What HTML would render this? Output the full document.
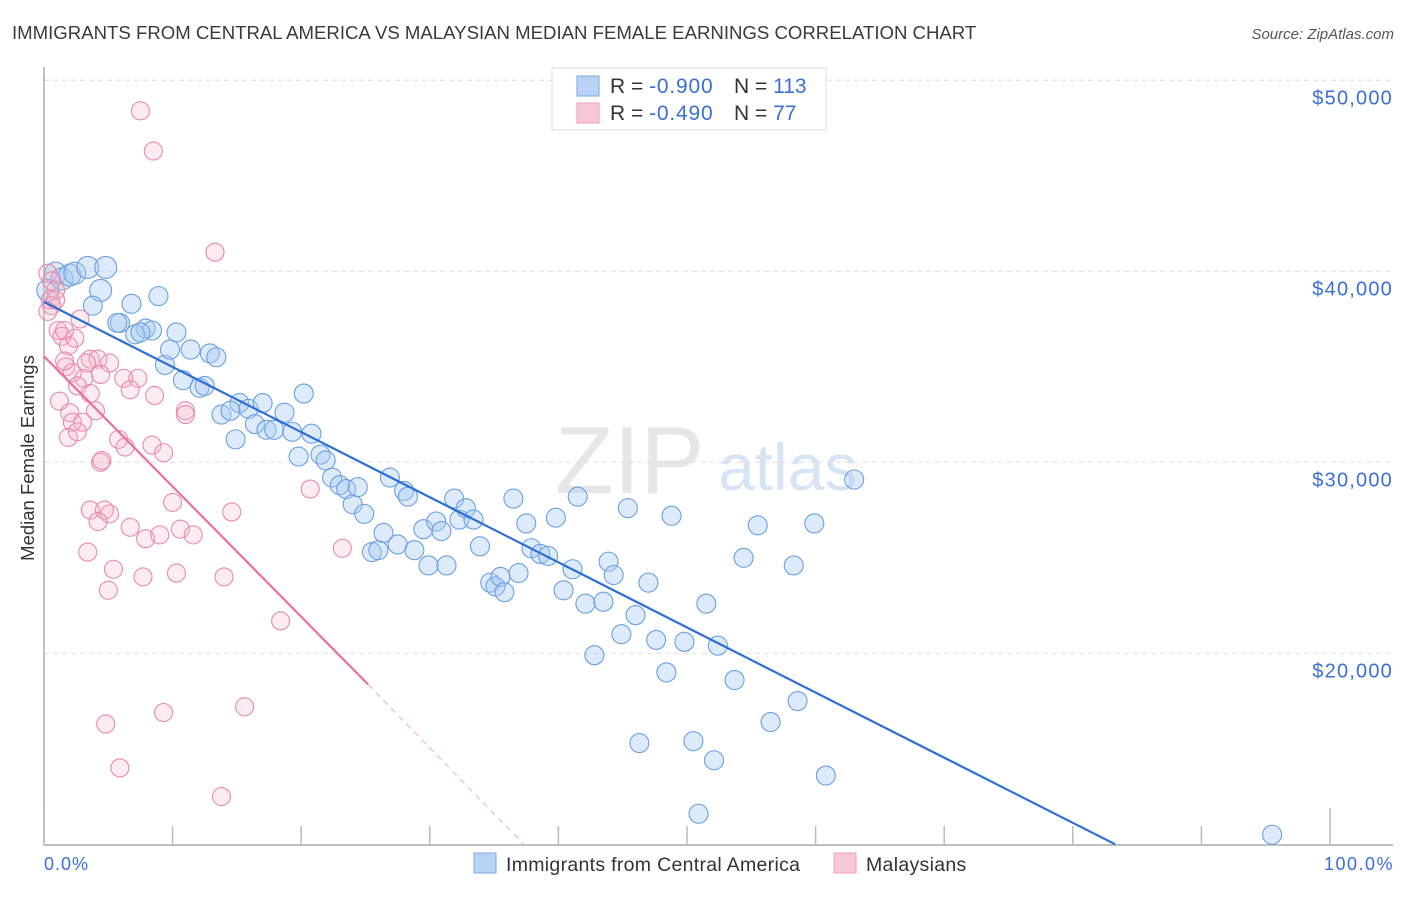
<!DOCTYPE html>
<html><head><meta charset="utf-8"><style>
body{margin:0;background:#fff;font-family:"Liberation Sans",sans-serif;}
svg text{font-family:"Liberation Sans",sans-serif;}
</style></head><body>
<svg id="chart" width="1406" height="892">
<text x="12" y="39" font-size="18.6" fill="#3a3a3a">IMMIGRANTS FROM CENTRAL AMERICA VS MALAYSIAN MEDIAN FEMALE EARNINGS CORRELATION CHART</text>
<text x="1394" y="39" font-size="15" font-style="italic" fill="#555" text-anchor="end">Source: ZipAtlas.com</text>
<text x="555" y="493" font-size="96" fill="#e6e6e6" font-family="Liberation Serif">ZIP</text>
<text x="718" y="490" font-size="66" fill="#d6e4f6">atlas</text>
<g id="grid"></g>
<g id="axes"></g>
<g id="pts"></g>
<g id="trend"></g>
<text transform="translate(34,458) rotate(-90)" font-size="18.5" fill="#333" text-anchor="middle">Median Female Earnings</text>
<text x="44" y="870" font-size="18" letter-spacing="1" fill="#3a6fd8">0.0%</text>
<text x="1394" y="870" font-size="18" letter-spacing="1.5" fill="#3a6fd8" text-anchor="end">100.0%</text>
<g>
<rect x="552" y="68" width="274" height="62" fill="#fff" stroke="#ddd"/>
<rect x="577" y="76" width="22" height="20" fill="#b8d3f5" stroke="#7aa8e6"/>
<rect x="577" y="103" width="22" height="20" fill="#f9c6d6" stroke="#eea0b8"/>
<text x="610" y="93" font-size="21" fill="#333">R = <tspan fill="#3a6fd8" letter-spacing="0.8">-0.900</tspan></text>
<text x="734" y="93" font-size="21" fill="#333">N = <tspan fill="#3a6fd8">113</tspan></text>
<text x="610" y="120" font-size="21" fill="#333">R = <tspan fill="#3a6fd8" letter-spacing="0.8">-0.490</tspan></text>
<text x="734" y="120" font-size="21" fill="#333">N = <tspan fill="#3a6fd8"> 77</tspan></text>
</g>
<g>
<rect x="474" y="853" width="22" height="20" fill="#b8d3f5" stroke="#7aa8e6"/>
<text x="506" y="871" font-size="19.5" letter-spacing="0.3" fill="#333">Immigrants from Central America</text>
<rect x="834" y="853" width="22" height="20" fill="#f9c6d6" stroke="#eea0b8"/>
<text x="866" y="871" font-size="19.5" letter-spacing="0.3" fill="#333">Malaysians</text>
</g>
</svg>
<script>
const yTicks=[20000,30000,40000,50000];
const yTickLabels=["$20,000","$30,000","$40,000","$50,000"];
const xTicks=[0,10,20,30,40,50,60,70,80,90,100];
const blueX=[0.9,0.3,1.4,2.0,2.4,3.4,4.8,4.4,3.8,5.9,6.8,5.7,7.9,8.4,8.9,7.1,7.5,10.3,9.4,9.8,10.8,11.4,12.1,12.9,13.4,12.5,14.9,15.2,13.8,14.5,15.9,16.4,17.0,17.3,17.9,18.7,19.3,20.2,19.8,20.8,21.5,21.9,22.4,23.0,23.5,24.0,24.4,24.9,25.5,26.0,26.4,26.9,27.5,28.0,28.3,28.8,29.5,29.9,30.5,31.3,30.9,31.9,32.3,32.8,33.4,33.9,34.7,35.1,35.5,35.8,36.5,36.9,37.5,37.9,38.6,39.2,39.8,40.4,41.1,41.5,42.1,43.5,43.9,44.3,44.9,45.4,46.0,47.0,47.6,48.4,48.8,49.8,50.5,50.9,51.5,52.1,52.4,53.7,54.4,55.5,56.5,58.3,58.6,59.9,60.8,63.0,95.5,42.8,46.3];
const blueY=[39900,39000,39600,39800,39900,40200,40200,39000,38200,37300,38300,37300,37000,36900,38700,36700,36800,36800,35100,35900,34300,35900,33900,35700,35500,34000,31200,33100,32500,32700,32800,32000,33100,31700,31700,32600,31600,33600,30300,31500,30400,30100,29200,28800,28600,27800,28700,27300,25300,25400,26300,29200,25700,28500,28200,25400,26500,24600,26900,24600,26400,28100,27000,27600,27000,25600,23700,23500,24000,23200,28100,24200,26800,25500,25200,25100,27100,23300,24400,28200,22600,22700,24800,24100,21000,27600,22000,23700,20700,19000,27200,20600,15400,11600,22600,14400,20400,18600,25000,26700,16400,24600,17500,26800,13600,29100,10500,19900,15300];
const pinkX=[7.5,8.5,13.3,0.3,0.6,0.9,0.5,0.6,1.1,1.4,1.9,2.4,2.8,3.6,4.2,5.1,1.7,2.2,3.1,4.4,6.2,7.3,2.6,3.6,6.7,8.6,1.2,2.0,4.0,11.0,11.0,2.2,3.0,1.9,2.6,5.8,6.3,8.4,9.3,4.4,4.5,20.7,10.0,3.6,4.7,5.1,14.6,4.2,6.7,10.6,11.6,7.9,9.0,23.2,3.4,5.4,7.7,10.3,14.0,5.0,18.4,4.8,9.3,15.6,5.9,13.8,1.6,0.9,0.3,1.6,3.3];
const pinkY=[48400,46300,41000,39900,39500,39000,38500,38200,36900,36600,36100,36500,37500,35400,35400,35200,35000,34700,34400,34600,34400,34400,34000,33600,33800,33500,33200,32600,32700,32700,32500,32100,32100,31300,31600,31200,30800,30900,30500,30000,30100,28600,27900,27500,27500,27300,27400,26900,26600,26500,26200,26000,26200,25500,25300,24400,24000,24200,24000,23300,21700,16300,16900,17200,14000,12500,36900,38500,37900,35300,35200];
const blueTrendX=[0,83.3];
const blueTrendY=[38400,10000];
const pinkTrendX=[0,25.2];
const pinkTrendY=[35550,18370];
const pinkDashX=[25.2,37.3];
const pinkDashY=[18370,10000];

const NS="http://www.w3.org/2000/svg";
function xs(v){return 44+v*12.86;}
function ys(v){return 80.3+(50000-v)/10000*191;}
function mk(tag,attrs,parent){const e=document.createElementNS(NS,tag);for(const k in attrs)e.setAttribute(k,attrs[k]);document.getElementById(parent).appendChild(e);return e;}

yTicks.forEach((t,i)=>{
  const l=mk('line',{x1:44,x2:1393,y1:ys(t),y2:ys(t),stroke:'#ddd','stroke-dasharray':'5,4'},'grid');
  
  
  const tx=mk('text',{x:1393,y:ys(t)+24,'font-size':20,'letter-spacing':1.2,fill:'#3a6fd8','text-anchor':'end'},'grid');
  tx.textContent=yTickLabels[i];
  
  
});
const ax=mk('line',{x1:44,x2:44,y1:67,y2:845,stroke:'#aaa','stroke-width':1.5},'axes');


const bx=mk('line',{x1:44,x2:1393,y1:845,y2:845,stroke:'#aaa','stroke-width':1.5},'axes');


xTicks.forEach(t=>{
  const tk=mk('line',{x1:xs(t),x2:xs(t),y1:(t===0||t===100)?808:826,y2:845,stroke:'#bbb','stroke-width':1.5},'axes');
  
  
});
blueX.forEach((x,i)=>{
  const c=mk('circle',{cx:xs(x),cy:ys(blueY[i]),r:(x<5&&blueY[i]>38500)?11:9.5,fill:'rgba(170,202,242,0.4)',stroke:'#6a9fe0','stroke-width':1.1},'pts');
  
  
});
pinkX.forEach((x,i)=>{
  const c=mk('circle',{cx:xs(x),cy:ys(pinkY[i]),r:9,fill:'rgba(245,175,198,0.25)',stroke:'#e88aa8','stroke-width':1.1},'pts');
  
  
});
const bt=mk('line',{x1:xs(blueTrendX[0]),y1:ys(blueTrendY[0]),x2:xs(blueTrendX[1]),y2:ys(blueTrendY[1]),stroke:'#2b6fd6','stroke-width':2.2},'trend');


const pt=mk('line',{x1:xs(pinkTrendX[0]),y1:ys(pinkTrendY[0]),x2:xs(pinkTrendX[1]),y2:ys(pinkTrendY[1]),stroke:'#e8719a','stroke-width':2.2},'trend');


const pd=mk('line',{x1:xs(pinkDashX[0]),y1:ys(pinkDashY[0]),x2:xs(pinkDashX[1]),y2:ys(pinkDashY[1]),stroke:'#eeaabf','stroke-width':1,'stroke-dasharray':'6,5'},'trend');


</script>
</body></html>
